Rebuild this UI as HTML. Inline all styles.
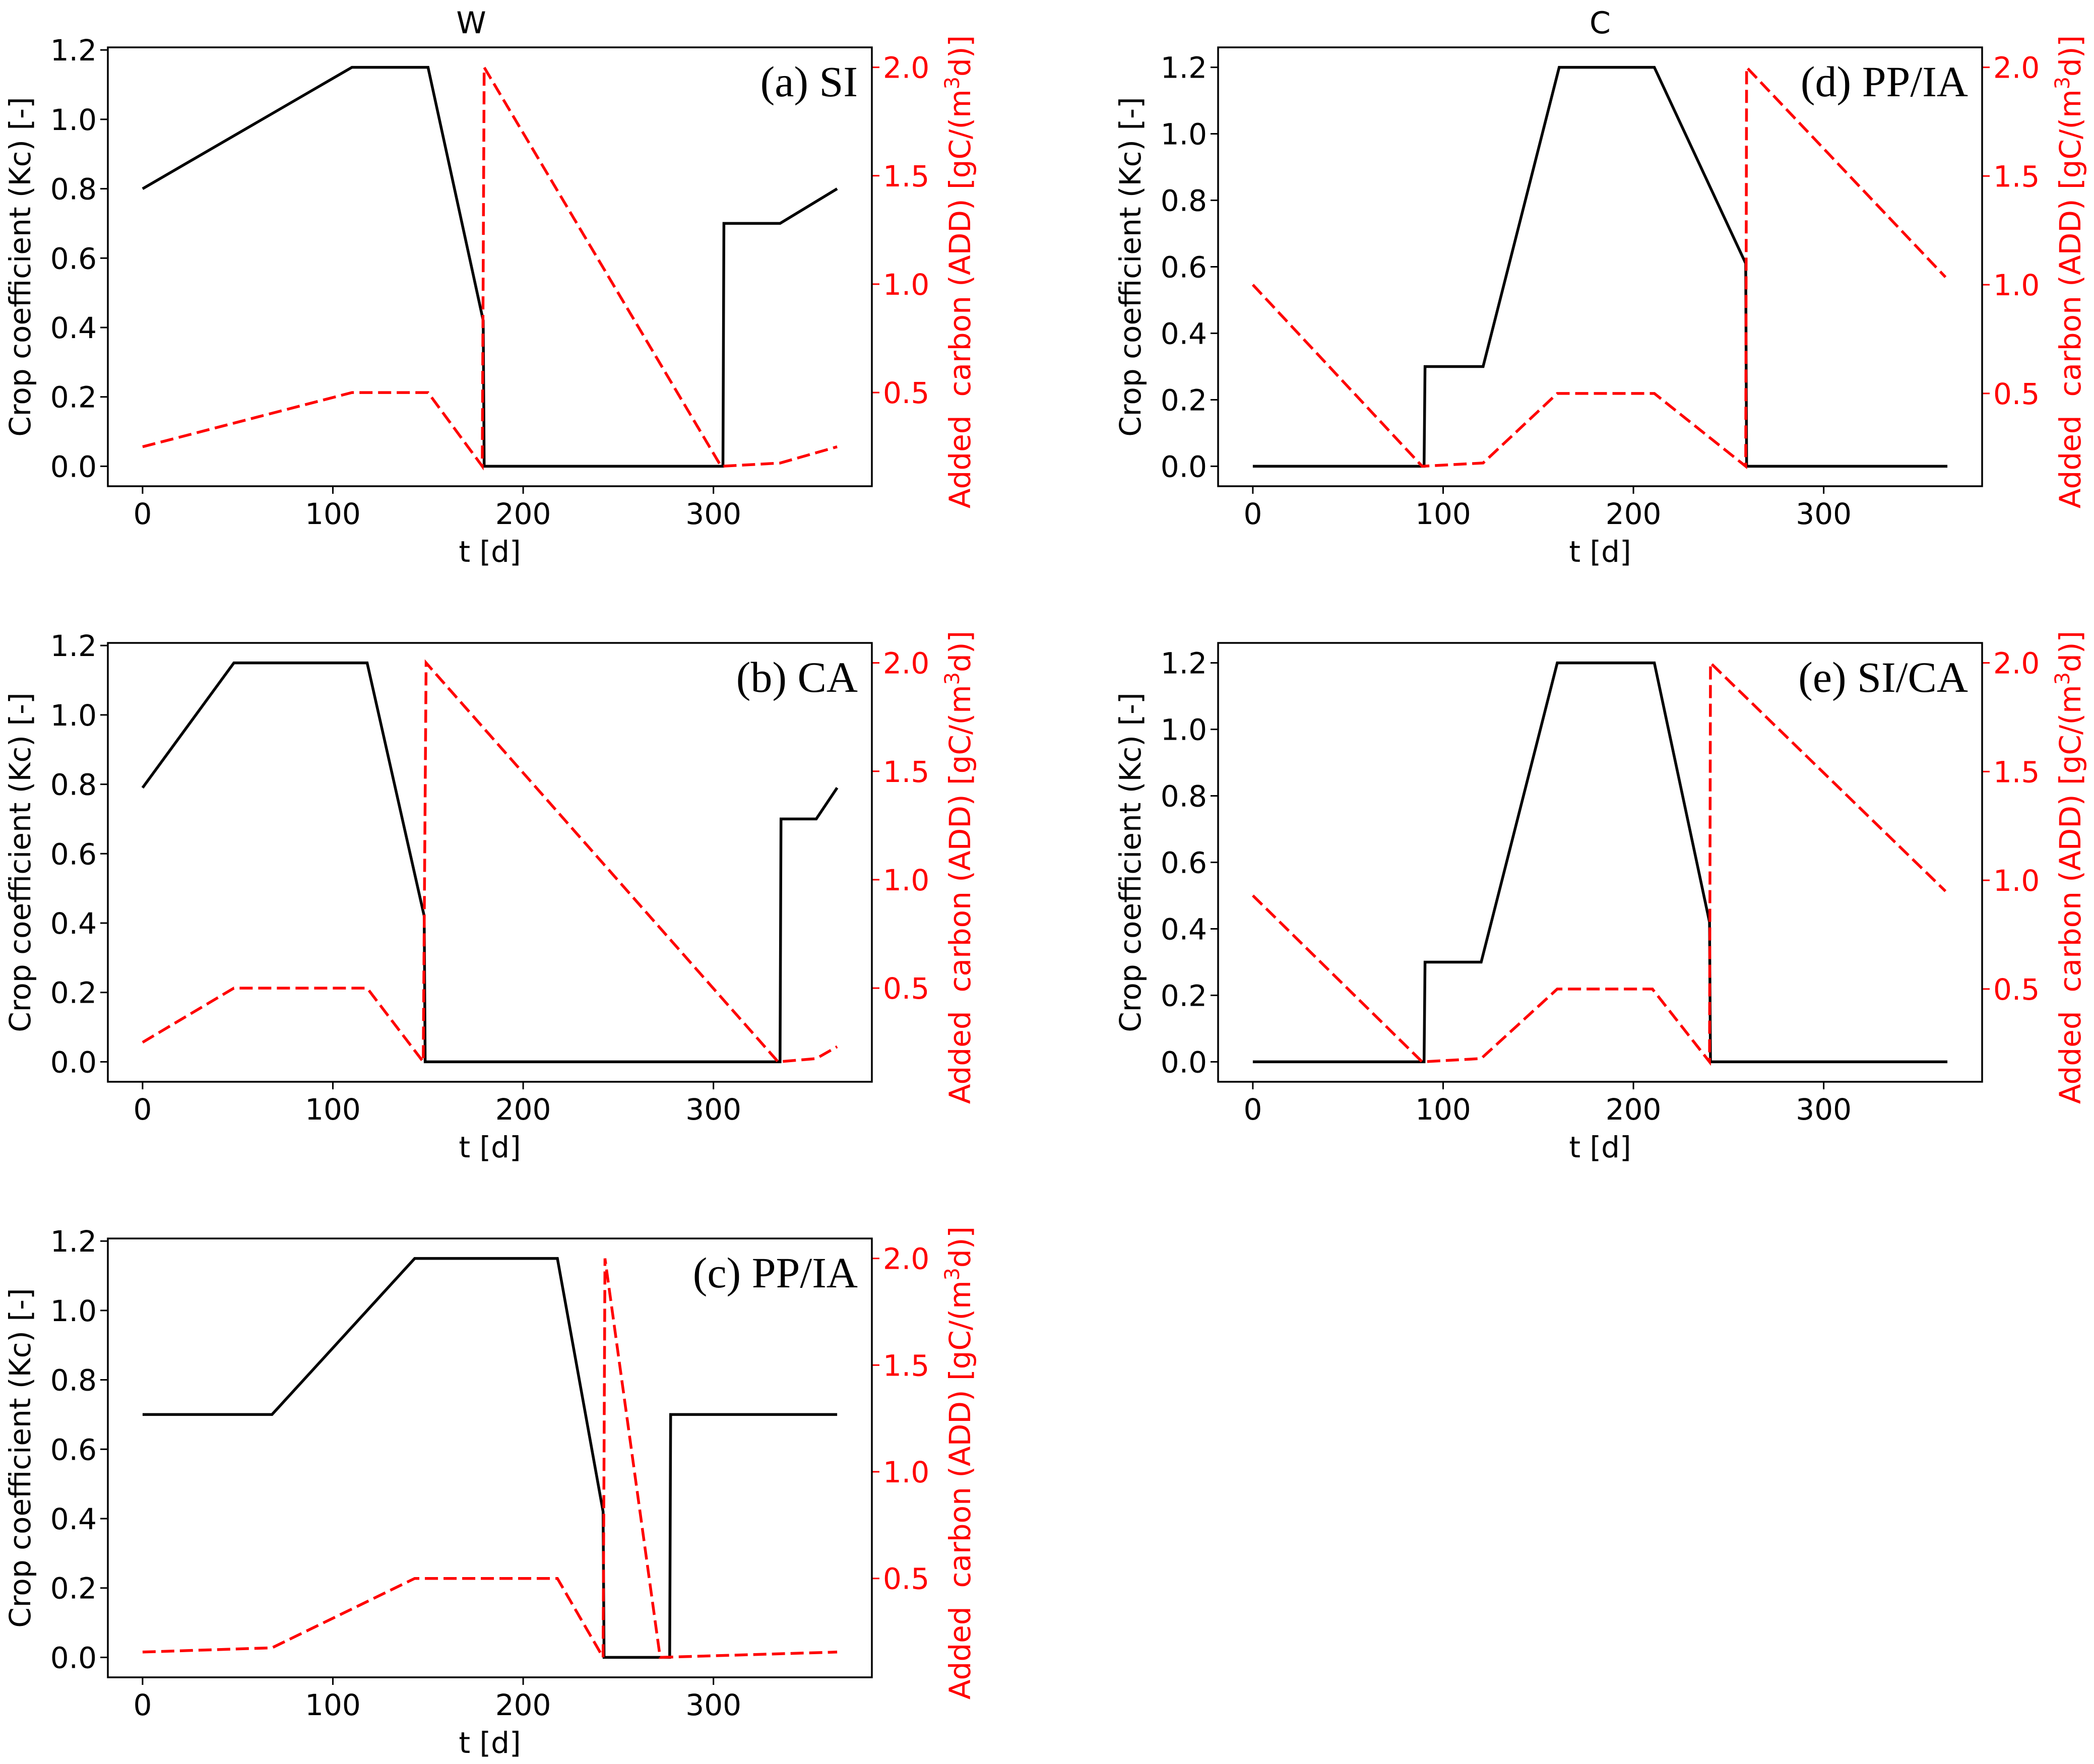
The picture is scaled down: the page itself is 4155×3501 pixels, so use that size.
<!DOCTYPE html>
<html>
<head>
<meta charset="utf-8">
<style>
html,body{margin:0;padding:0;background:#fff;}
svg{display:block;}
text{font-family:"DejaVu Sans","Liberation Sans",sans-serif;}
.lab{font-family:"Liberation Serif",serif;}
</style>
</head>
<body>
<svg id="fig" width="4155" height="3501" viewBox="0 0 4155 3501" xmlns="http://www.w3.org/2000/svg">
<rect width="4155" height="3501" fill="#fff"/>
<text x="935" y="66" font-size="60" text-anchor="middle">W</text>
<text x="3175" y="66" font-size="60" text-anchor="middle">C</text>
</svg>
<script>
// ---- data ----
const xTicks = [0, 100, 200, 300];
const kcTicks = [0.0, 0.2, 0.4, 0.6, 0.8, 1.0, 1.2];
const kcTickLabels = ["0.0","0.2","0.4","0.6","0.8","1.0","1.2"];
const addTicks = [0.5, 1.0, 1.5, 2.0];
const addTickLabels = ["0.5","1.0","1.5","2.0"];
const panelLabels = ["(a) SI","(b) CA","(c) PP/IA","(d) PP/IA","(e) SI/CA"];

const kcT_a = [0,110,150,179,179.5,305,305.5,335,365];
const kcV_a = [0.8,1.15,1.15,0.42,0,0,0.7,0.7,0.8];
const addT_a = [0,110,150,178.5,179.5,304,335,365];
const addV_a = [0.25,0.5,0.5,0.16,2.0,0.16,0.175,0.25];

const kcT_b = [0,48,118,148,148.5,335,335.5,354,365];
const kcV_b = [0.79,1.15,1.15,0.42,0,0,0.7,0.7,0.79];
const addT_b = [0,48,118,147.5,149,334,354,365];
const addV_b = [0.25,0.5,0.5,0.16,2.0,0.16,0.175,0.23];

const kcT_c = [0,68,143,218,242,242.5,277,277.5,365];
const kcV_c = [0.7,0.7,1.15,1.15,0.42,0,0,0.7,0.7];
const addT_c = [0,68,143,218,242,243,272,365];
const addV_c = [0.155,0.175,0.5,0.5,0.13,2.0,0.13,0.155];

const kcT_d = [0,90,90.5,121,161,211,259,259.5,365];
const kcV_d = [0,0,0.3,0.3,1.2,1.2,0.61,0,0];
const addT_d = [0,89,121,160,211,259,259.5,364];
const addV_d = [1.0,0.165,0.18,0.5,0.5,0.165,2.0,1.035];

const kcT_e = [0,90,90.5,120,160,211,240,240.5,365];
const kcV_e = [0,0,0.3,0.3,1.2,1.2,0.42,0,0];
const addT_e = [0,89,120,160,210,240,240.5,364];
const addV_e = [0.93,0.165,0.18,0.5,0.5,0.165,2.0,0.95];

// ---- drawing ----
const NS = "http://www.w3.org/2000/svg";
const svg = document.getElementById('fig');
const panels = [
  {kt:kcT_a,kv:kcV_a,at:addT_a,av:addV_a,x:214,y:94},
  {kt:kcT_b,kv:kcV_b,at:addT_b,av:addV_b,x:214,y:1276},
  {kt:kcT_c,kv:kcV_c,at:addT_c,av:addV_c,x:214,y:2458},
  {kt:kcT_d,kv:kcV_d,at:addT_d,av:addV_d,x:2417,y:94},
  {kt:kcT_e,kv:kcV_e,at:addT_e,av:addV_e,x:2417,y:1276}
];
const W = 1516, H = 871, FS = 58;
function mk(tag, attrs, parent){
  const e = document.createElementNS(NS, tag);
  for (const k in attrs) e.setAttribute(k, attrs[k]);
  (parent||svg).appendChild(e);
  return e;
}
function lim(a){ const mn=Math.min(...a), mx=Math.max(...a), r=mx-mn; return [mn-0.05*r, mx+0.05*r]; }

panels.forEach((p, i) => {
  const g = mk('g', {});
  
  
  const xl = lim(p.kt.concat(p.at));
  const kl = lim(p.kv), al = lim(p.av);
  const sx = t => p.x + (t - xl[0]) / (xl[1] - xl[0]) * W;
  const sk = v => p.y + H - (v - kl[0]) / (kl[1] - kl[0]) * H;
  const sa = v => p.y + H - (v - al[0]) / (al[1] - al[0]) * H;

  xTicks.forEach(t => {
    const X = sx(t);
    const tk = mk('line', {x1:X, x2:X, y1:p.y+H, y2:p.y+H+15, stroke:'#000','stroke-width':3}, g);
    
    
    const tl = mk('text', {x:X, y:p.y+H+75, 'font-size':FS, 'text-anchor':'middle'}, g);
    
    
    tl.textContent = t;
  });
  kcTicks.forEach((v, j) => {
    const Y = sk(v);
    const tk = mk('line', {x1:p.x-15, x2:p.x, y1:Y, y2:Y, stroke:'#000','stroke-width':3}, g);
    
    
    const tl = mk('text', {x:p.x-22, y:Y+21, 'font-size':FS, 'text-anchor':'end'}, g);
    
    
    tl.textContent = kcTickLabels[j];
  });
  addTicks.forEach((v, j) => {
    const Y = sa(v);
    const tk = mk('line', {x1:p.x+W, x2:p.x+W+15, y1:Y, y2:Y, stroke:'#ff0000','stroke-width':3}, g);
    
    
    const tl = mk('text', {x:p.x+W+22, y:Y+21, 'font-size':FS, fill:'#ff0000'}, g);
    
    
    tl.textContent = addTickLabels[j];
  });
  const kcPts = p.kt.map((t, j) => sx(t).toFixed(1) + ',' + sk(p.kv[j]).toFixed(1)).join(' ');
  const kcl = mk('polyline', {points:kcPts, fill:'none', stroke:'#000', 'stroke-width':5.5, 'stroke-linejoin':'miter'}, g);
  
  
  const adPts = p.at.map((t, j) => sx(t).toFixed(1) + ',' + sa(p.av[j]).toFixed(1)).join(' ');
  const adl = mk('polyline', {points:adPts, fill:'none', stroke:'#ff0000', 'stroke-width':5.5, 'stroke-dasharray':'26 11'}, g);
  
  
  const fr = mk('rect', {x:p.x, y:p.y, width:W, height:H, fill:'none', stroke:'#000', 'stroke-width':3.5}, g);
  
  
  const pl = mk('text', {x:p.x+W-28, y:p.y+97, 'font-size':86, 'text-anchor':'end', 'class':'lab'}, g);
  
  
  pl.textContent = panelLabels[i];
  const xlb = mk('text', {x:p.x+W/2, y:p.y+H+150, 'font-size':FS, 'text-anchor':'middle'}, g);
  
  
  xlb.textContent = 't [d]';
  const cy = p.y + H/2;
  const ll = mk('text', {x:0, y:0, 'font-size':FS, 'text-anchor':'middle', transform:'translate(' + (p.x-154) + ',' + cy + ') rotate(-90)'}, g);
  
  
  ll.textContent = 'Crop coefficient (Kc) [-]';
  const rl = mk('text', {x:0, y:0, 'font-size':FS, 'text-anchor':'middle', fill:'#ff0000', transform:'translate(' + (p.x+W+195) + ',' + (cy+10) + ') rotate(-90)'}, g);
  
  
  const s1 = mk('tspan', {}, rl); s1.textContent = 'Added\u00a0 carbon (ADD) [gC/(m';
  const s2 = mk('tspan', {'font-size':40, dy:-22}, rl); s2.textContent = '3';
  const s3 = mk('tspan', {dy:22}, rl); s3.textContent = 'd)]';
});
</script>
</body>
</html>
